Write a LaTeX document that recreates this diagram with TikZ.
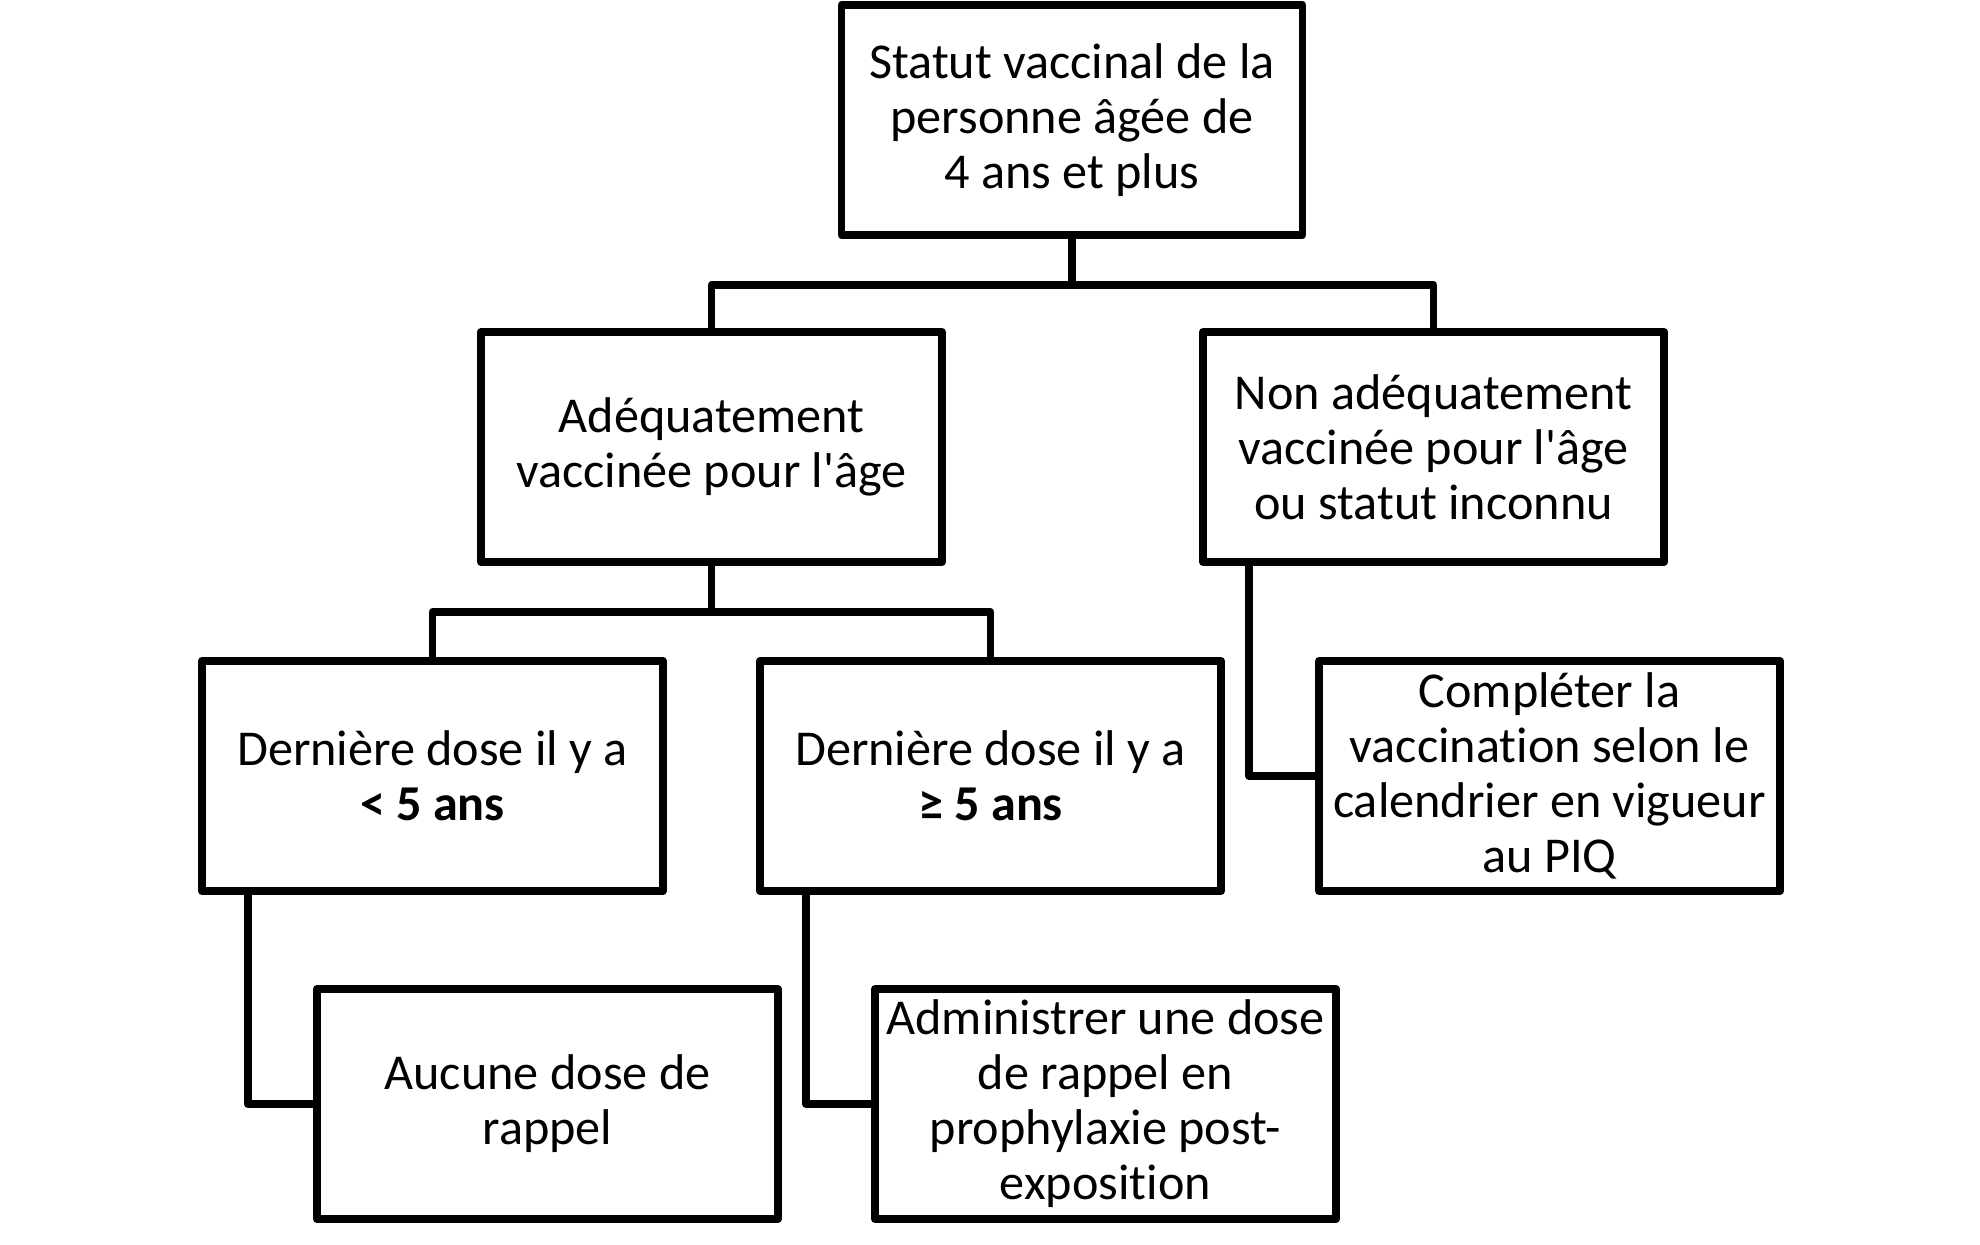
\documentclass[tikz,border=0pt]{standalone}
\usepackage{fontspec}
\setmainfont{Carlito}[Ligatures={CommonOff,TeXOff}]
\begin{document}
\begin{tikzpicture}[x=0.5pt,y=-0.5pt,
  box/.style={draw=black, line width=3.9pt, line join=round, outer sep=0pt, inner sep=0pt,
    minimum width=230.5pt, minimum height=115pt, align=center,
    font=\fontsize{25.1}{27.5}\selectfont},
  conn/.style={draw=black, line width=3.9pt, line join=round}]
\useasboundingbox (0,0) rectangle (1980,1244);
\node[box] (top)  at (1072,120)   {Statut vaccinal de la\\personne âgée de\\4 ans et plus};
\node[box] (ade)  at (711.5,447)  {Adéquatement\\vaccinée pour l'âge};
\node[box] (non)  at (1433.5,447) {Non adéquatement\\vaccinée pour l'âge\\ou statut inconnu};
\node[box] (d1)   at (432.5,776)  {Dernière dose il y a\\\textbf{< 5 ans}};
\node[box] (d2)   at (990.5,776)  {Dernière dose il y a\\\textbf{≥ 5 ans}};
\node[box] (comp) at (1549.5,776) {Compléter la\\vaccination selon le\\calendrier en vigueur\\au PIQ};
\node[box] (auc)  at (547.5,1104) {Aucune dose de\\rappel};
\node[box] (adm)  at (1105.5,1104) {Administrer une dose\\de rappel en\\prophylaxie post-\\exposition};
\draw[conn] (top.south) -- ++(0,50) -| (ade.north);
\draw[conn] (top.south) -- ++(0,50) -| (non.north);
\draw[conn] (ade.south) -- ++(0,50) -| (d1.north);
\draw[conn] (ade.south) -- ++(0,50) -| (d2.north);
\draw[conn] ([xshift=23pt]non.south west) |- (comp.west);
\draw[conn] ([xshift=23pt]d1.south west) |- (auc.west);
\draw[conn] ([xshift=23pt]d2.south west) |- (adm.west);
\end{tikzpicture}
\end{document}
